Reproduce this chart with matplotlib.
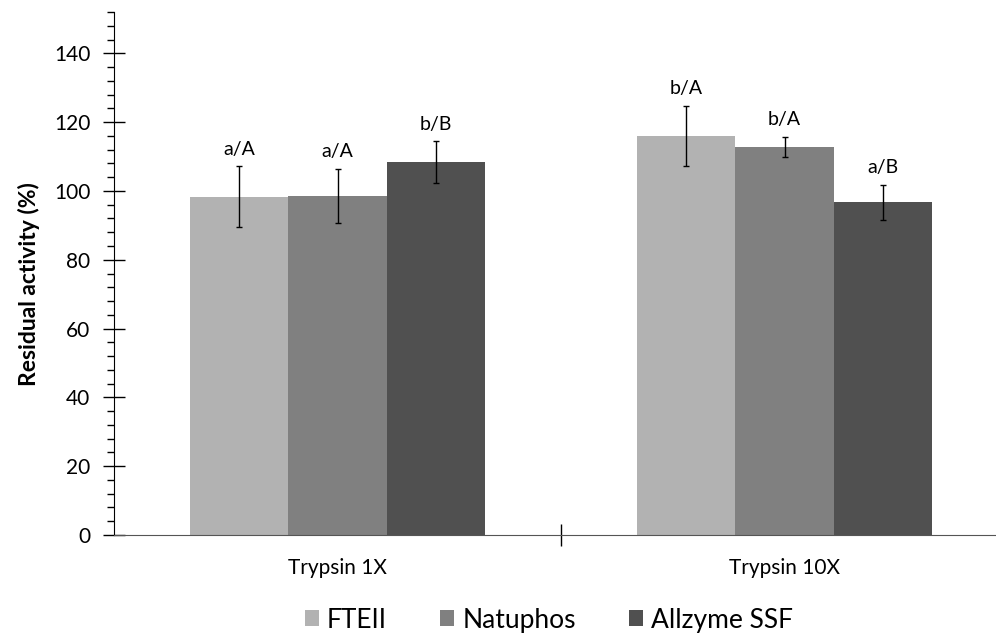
import matplotlib.pyplot as plt
import numpy as np
from matplotlib.ticker import MultipleLocator

plt.rcParams['font.family'] = ['Lato', 'DejaVu Sans']

categories = ['Trypsin 1X', 'Trypsin 10X']
series = ['FTEII', 'Natuphos', 'Allzyme SSF']
colors = ['#b2b2b2', '#808080', '#505050']

# residual activity (%) per series, per category
values = [
    [98.3, 116.0],
    [98.6, 112.9],
    [108.4, 96.7],
]
errors = [
    [8.8, 8.8],
    [7.9, 2.9],
    [6.0, 5.1],
]
letters = [
    ['a/A', 'b/A'],
    ['a/A', 'b/A'],
    ['b/B', 'a/B'],
]

fig = plt.figure(figsize=(9.96, 6.44), dpi=100)
ax = fig.add_axes([114 / 996, 109 / 644, 894 / 996, 523 / 644])

x = np.arange(len(categories))
width = 0.22
for i, name in enumerate(series):
    pos = x + (i - 1) * width
    ax.bar(pos, values[i], width, color=colors[i], label=name,
           yerr=errors[i], capsize=2.5,
           error_kw=dict(elinewidth=1, capthick=1, ecolor='black'))
    for j in range(len(categories)):
        ax.annotate(letters[i][j], (pos[j], values[i][j] + errors[i][j]),
                    xytext=(0, 6), textcoords='offset points',
                    ha='center', va='bottom', fontsize=14)

ax.set_xlim(-0.5, 1.5)
ax.set_ylim(0, 152)
ax.yaxis.set_major_locator(MultipleLocator(20))
ax.yaxis.set_minor_locator(MultipleLocator(4))
ax.set_xticks([0.5], minor=False)
ax.set_xticklabels([''])
ax.tick_params(axis='x', direction='inout', length=16, width=1)
ax.tick_params(axis='y', which='major', direction='inout', length=16, width=1,
               labelsize=15, pad=9)
ax.tick_params(axis='y', which='minor', direction='out', length=5, width=1)
for j, c in enumerate(categories):
    ax.text(x[j], -0.063, c, transform=ax.get_xaxis_transform(),
            ha='center', va='center', fontsize=15)

ax.spines['top'].set_visible(False)
ax.spines['right'].set_visible(False)
ax.spines['bottom'].set_color('#555555')
ax.set_ylabel('Residual activity (%)', fontsize=16.5, fontweight='bold')
ax.yaxis.set_label_coords(-0.083, 0.48)

fig.legend(loc='center', bbox_to_anchor=(0.551, 0.037), ncol=3, frameon=False,
           fontsize=19, handlelength=0.55, handleheight=0.55, handletextpad=0.3,
           columnspacing=2.0)

fig.savefig('out.png', dpi=100)
